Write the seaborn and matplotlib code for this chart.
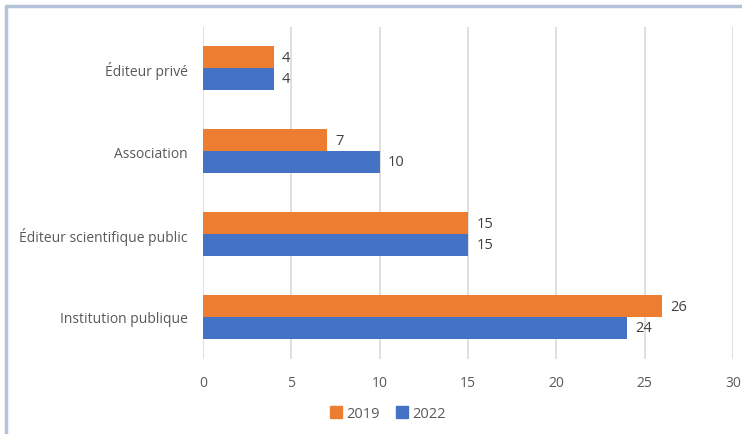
import matplotlib
matplotlib.use("Agg")
import matplotlib.pyplot as plt
import seaborn as sns
import pandas as pd
from matplotlib.lines import Line2D

categories = ["Éditeur privé", "Association", "Éditeur scientifique public", "Institution publique"]
values_2019 = [4, 7, 15, 26]
values_2022 = [4, 10, 15, 24]
years = ["2019", "2022"]
xticks = [0, 5, 10, 15, 20, 25, 30]

df = pd.DataFrame({
    "Catégorie": categories * 2,
    "Valeur": values_2019 + values_2022,
    "Année": [years[0]] * len(categories) + [years[1]] * len(categories),
})

sns.set_theme(style="white")
plt.rcParams["font.family"] = ["Open Sans", "DejaVu Sans"]

fig = plt.figure(figsize=(7.42, 4.35), dpi=100)
ax = fig.add_axes([203 / 742, 1 - 359.5 / 435, 530 / 742, 332 / 435])

palette = {"2019": "#ED7D31", "2022": "#4472C4"}
sns.barplot(data=df, y="Catégorie", x="Valeur", hue="Année", hue_order=years,
            order=categories, palette=palette, orient="h", width=0.52,
            saturation=1, linewidth=0, ax=ax, legend=False)

for cont in ax.containers:
    ax.bar_label(cont, padding=6, fontsize=10.5, color="#404040")

ax.set_xlim(0, 30)
ax.set_ylim(3.5, -0.5)
ax.set_xticks(xticks)
ax.set_xticklabels([str(t) for t in xticks])
ax.xaxis.grid(True, color="#D9D9D9", linewidth=1.2)
ax.yaxis.grid(False)
ax.set_axisbelow(True)
for s in ax.spines.values():
    s.set_visible(False)
ax.tick_params(axis="both", length=0, labelsize=10, colors="#595959", pad=12)
ax.tick_params(axis="y", pad=11)
ax.set_xlabel("")
ax.set_ylabel("")

handles = [Line2D([0], [0], marker="s", linestyle="", markersize=8,
                  markerfacecolor=palette[y], markeredgecolor=palette[y]) for y in years]
fig.legend(handles, years, loc="center", bbox_to_anchor=(387 / 742, 1 - 415 / 435),
           ncol=2, frameon=False, fontsize=10.5, labelcolor="#595959",
           handletextpad=0.2, columnspacing=1.0, handlelength=1.0)

# frame lines (top and left)
border = "#B4C3D9"
fig.add_artist(Line2D([6 / 742, 1], [1 - 7 / 435, 1 - 7 / 435], color=border, linewidth=2.5,
                      transform=fig.transFigure))
fig.add_artist(Line2D([6 / 742, 6 / 742], [0, 1 - 7 / 435], color=border, linewidth=2.5,
                      transform=fig.transFigure))

fig.savefig("out.png", dpi=100)
